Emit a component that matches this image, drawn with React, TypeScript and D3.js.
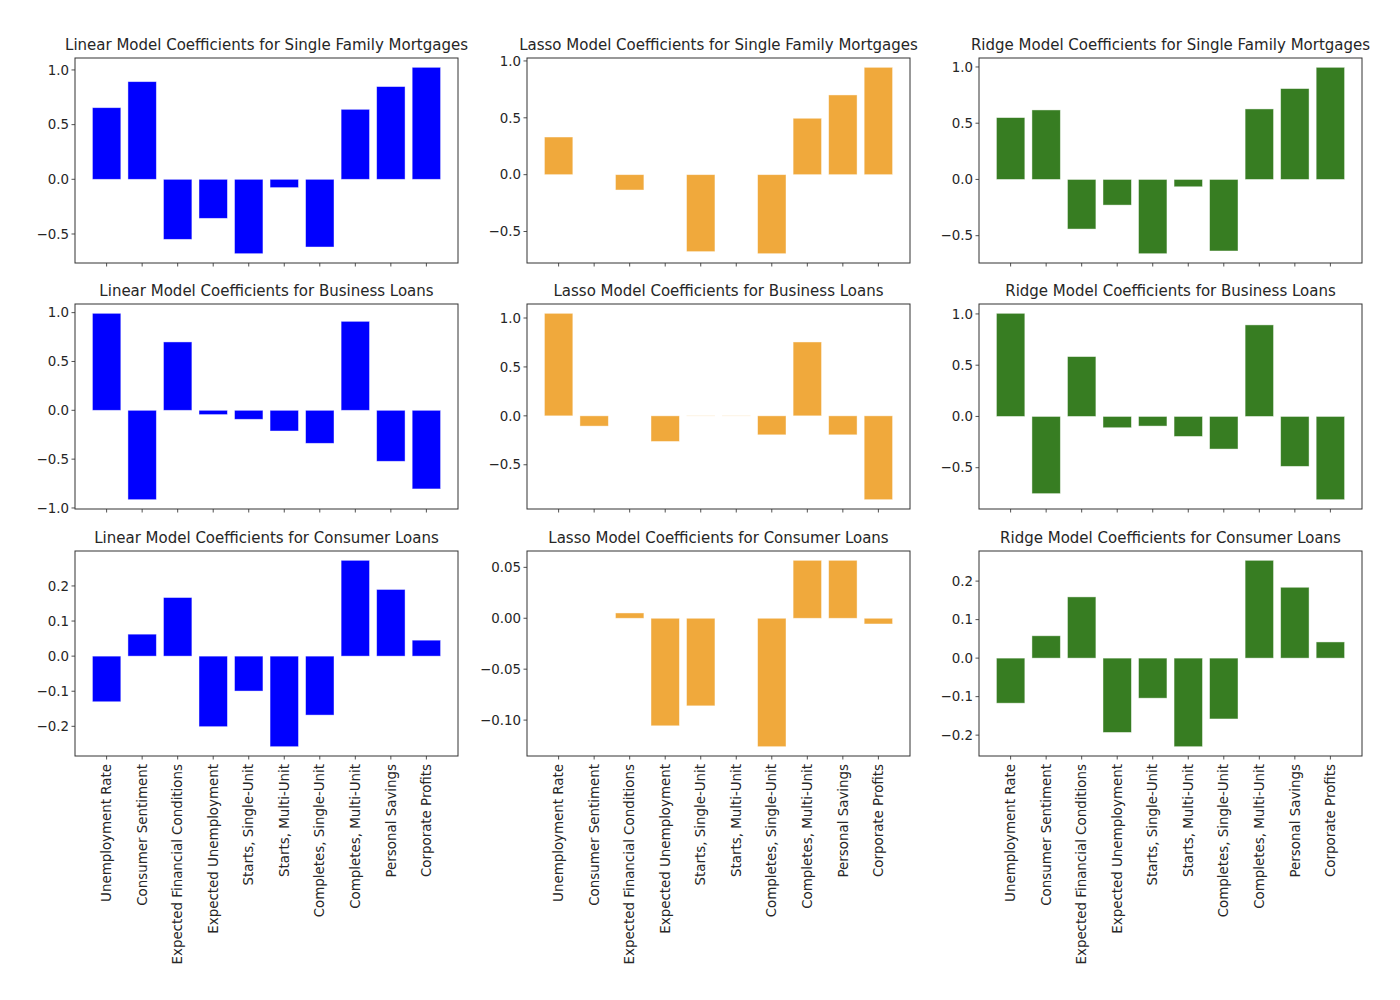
import * as d3 from "d3";

// feature names (x categories, shared by every panel)
const features = [
  "Unemployment Rate",
  "Consumer Sentiment",
  "Expected Financial Conditions",
  "Expected Unemployment",
  "Starts, Single-Unit",
  "Starts, Multi-Unit",
  "Completes, Single-Unit",
  "Completes, Multi-Unit",
  "Personal Savings",
  "Corporate Profits",
];

const models = ["Linear", "Lasso", "Ridge"];
const loanTypes = ["Single Family Mortgages", "Business Loans", "Consumer Loans"];
const modelColors = ["#0000ff", "#f0a93c", "#377d22"];

// Single Family Mortgages
const linearSF = [0.655, 0.893, -0.549, -0.357, -0.68, -0.076, -0.619, 0.64, 0.848, 1.024];
const lassoSF = [0.331, 0, -0.135, 0, -0.677, 0, -0.695, 0.496, 0.701, 0.944];
const ridgeSF = [0.55, 0.618, -0.441, -0.228, -0.66, -0.065, -0.636, 0.627, 0.808, 0.997];

// Business Loans
const linearBL = [0.993, -0.915, 0.7, -0.044, -0.092, -0.212, -0.338, 0.911, -0.522, -0.805];
const lassoBL = [1.048, -0.105, 0, -0.262, -0.002, -0.002, -0.194, 0.755, -0.194, -0.857];
const ridgeBL = [1.006, -0.753, 0.584, -0.11, -0.094, -0.195, -0.318, 0.893, -0.487, -0.812];

// Consumer Loans
const linearCL = [-0.13, 0.0626, 0.167, -0.201, -0.0995, -0.258, -0.168, 0.273, 0.19, 0.0455];
const lassoCL = [0, 0, 0.0052, -0.1056, -0.086, 0, -0.1261, 0.0569, 0.0569, -0.0056];
const ridgeCL = [-0.117, 0.058, 0.159, -0.193, -0.104, -0.23, -0.158, 0.254, 0.184, 0.042];

// y tick values
const ticksHalf = [-0.5, 0, 0.5, 1.0];
const ticksHalfFull = [-1.0, -0.5, 0, 0.5, 1.0];
const ticksTenth = [-0.2, -0.1, 0, 0.1, 0.2];
const ticksTwentieth = [-0.1, -0.05, 0, 0.05];

const seriesGrid = [
  [linearSF, lassoSF, ridgeSF],
  [linearBL, lassoBL, ridgeBL],
  [linearCL, lassoCL, ridgeCL],
];
const tickGrid = [
  [ticksHalf, ticksHalf, ticksHalf],
  [ticksHalfFull, ticksHalf, ticksHalf],
  [ticksTenth, ticksTwentieth, ticksTenth],
];
const tickDecimals = [
  [1, 1, 1],
  [1, 1, 1],
  [1, 2, 1],
];

const colLefts = [75, 527, 979];
const rowTops = [58, 304, 551];
const PANEL_W = 383;
const PANEL_H = 205;
const FONT = "'DejaVu Sans', sans-serif";
const TEXT = "#262626";
const TITLE_SIZE = 15;
const TICK_SIZE = 13.4;

function Panel({ row, col }: { row: number; col: number }) {
  const values = seriesGrid[row][col];
  const color = modelColors[col];
  const ticks = tickGrid[row][col];
  const fmt = (v: number) => v.toFixed(tickDecimals[row][col]).replace("-", "\u2212");

  // matplotlib-style 5% margins, bars anchored at 0
  const lo = Math.min(0, d3.min(values) as number);
  const hi = Math.max(0, d3.max(values) as number);
  const pad = (hi - lo) * 0.05;
  const y = d3.scaleLinear().domain([lo - pad, hi + pad]).range([PANEL_H, 0]);

  const xSpan = (features.length - 1 + 0.8) * 0.05;
  const x = d3
    .scaleLinear()
    .domain([-0.4 - xSpan, features.length - 1 + 0.4 + xSpan])
    .range([0, PANEL_W]);

  const showLabels = row === 2;

  return (
    <g transform={`translate(${colLefts[col]},${rowTops[row]})`}>
      <text
        x={PANEL_W / 2}
        y={-8}
        textAnchor="middle"
        fontSize={TITLE_SIZE}
        fill={TEXT}
        fontFamily={FONT}
      >
        {`${models[col]} Model Coefficients for ${loanTypes[row]}`}
      </text>
      {values.map((v, i) => (
        <rect
          key={i}
          x={x(i - 0.4)}
          width={x(0.8) - x(0)}
          y={y(Math.max(0, v))}
          height={Math.abs(y(v) - y(0))}
          fill={color}
          stroke="#ffffff"
          strokeOpacity={0.55}
          strokeWidth={0.8}
        />
      ))}
      {ticks.map((t) => (
        <g key={t} transform={`translate(0,${y(t)})`}>
          <line x1={-3.5} x2={0} stroke={TEXT} strokeWidth={0.8} />
          <text
            x={-6}
            dy="0.35em"
            textAnchor="end"
            fontSize={TICK_SIZE}
            fill={TEXT}
            fontFamily={FONT}
          >
            {fmt(t)}
          </text>
        </g>
      ))}
      {features.map((f, i) => (
        <g key={f} transform={`translate(${x(i)},${PANEL_H})`}>
          <line y1={0} y2={3.5} stroke={TEXT} strokeWidth={0.8} />
          {showLabels && (
            <text
              transform="rotate(-90)"
              x={-8}
              dy="0.35em"
              textAnchor="end"
              fontSize={TICK_SIZE}
              fill={TEXT}
              fontFamily={FONT}
            >
              {f}
            </text>
          )}
        </g>
      ))}
      <rect
        x={0}
        y={0}
        width={PANEL_W}
        height={PANEL_H}
        fill="none"
        stroke="#333333"
        strokeWidth={1}
      />
    </g>
  );
}

export default function App() {
  return (
    <div style={{ position: "absolute", left: 0, top: 0 }}>
      <svg width={1400} height={1000} style={{ display: "block", background: "#fff" }}>
        {rowTops.map((_, r) =>
          colLefts.map((_, c) => <Panel key={`${r}-${c}`} row={r} col={c} />)
        )}
      </svg>
    </div>
  );
}
